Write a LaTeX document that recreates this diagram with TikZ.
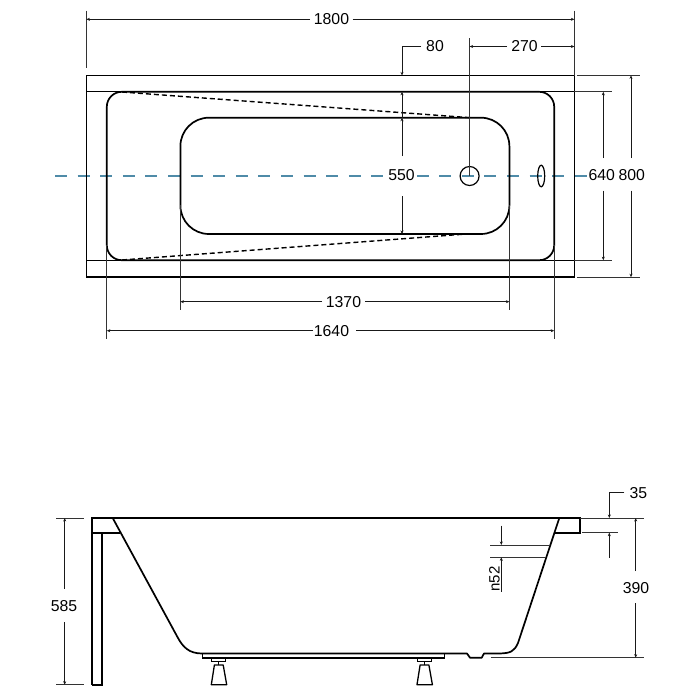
\documentclass[tikz,border=0pt]{standalone}
\usepackage{fontspec}
\setmainfont{Liberation Sans}
\usetikzlibrary{arrows.meta}
\tikzset{
  outline/.style={draw=black,line width=1.7pt,line join=miter},
  thinout/.style={draw=black,line width=1.3pt},
  dimline/.style={draw=black!90,line width=0.95pt},
  extline/.style={draw=black!80,line width=0.95pt},
  dimtip/.style={-{Stealth[length=3.5pt,width=3pt]}},
  dashint/.style={draw=black,line width=1.4pt,dash pattern=on 5pt off 3pt},
  axis/.style={draw=axiscol,line width=1.4pt,dash pattern=on 12pt off 10.6pt},
  lab/.style={font=\fontsize{15.8}{16}\selectfont,inner sep=0pt,text=black},
  lab14/.style={font=\fontsize{15}{15}\selectfont,inner sep=0pt,text=black},
}
\definecolor{axiscol}{HTML}{4F8BA8}
\begin{document}
\begin{tikzpicture}[x=1pt,y=-1pt]
\useasboundingbox (0,0) rectangle (696,696);
\fill[white] (0,0) rectangle (696,696);

% ---------- top view
\draw[axis] (55,176) -- (588,176);
\draw[outline,line width=1.8pt] (86.4,75.4) rectangle (574.4,277.2);
\draw[thinout] (86.4,91.8) -- (574.4,91.8);
\draw[thinout] (86.4,260.2) -- (574.4,260.2);
\draw[outline,rounded corners=15pt] (106.8,91.8) rectangle (554.2,260.2);
\draw[outline,rounded corners=28.5pt] (180.4,117.7) rectangle (509.4,234);
\draw[dashint] (122,92) -- (470,117.7);
\draw[dashint] (122,260) -- (466,234);
\draw[line width=1.2pt] (469.6,176) circle [radius=9.5];
\draw[line width=1.2pt] (541.2,176) ellipse [x radius=3.5,y radius=10.8];

% 1800
\draw[extline] (86.4,10.5) -- (86.4,68);
\draw[extline] (574.4,10.5) -- (574.4,76);
\node[lab] (d1800) at (331.5,19.3) {1800};
\draw[dimline,dimtip] (310,19.3) -- (86.4,19.3);
\draw[dimline,dimtip] (352.5,19.3) -- (574.4,19.3);
% 80
\node[lab] (d80) at (435,46.5) {80};
\draw[dimline,dimtip] (421,46.5) -- (402,46.5) -- (402,75.4);
\draw[dimline,dimtip] (402,117.7) -- (402,91.8);
% 270
\draw[extline] (469.6,38) -- (469.6,176);
\node[lab] (d270) at (524.5,46.5) {270};
\draw[dimline,dimtip] (507,46.5) -- (469.6,46.5);
\draw[dimline,dimtip] (541,46.5) -- (574.4,46.5);
% 550
\node[lab,fill=white,inner xsep=2pt] (d550) at (401.5,175.5) {550};
\draw[dimline,dimtip] (402,156) -- (402,117.7);
\draw[dimline,dimtip] (402,196) -- (402,234);
% 640 / 800
\node[lab] (d640) at (601.7,175) {640};
\node[lab] (d800) at (631.7,175) {800};
\draw[extline] (574.4,91.8) -- (612,91.8);
\draw[extline] (574.4,260.2) -- (612,260.2);
\draw[extline] (577,75.4) -- (640,75.4);
\draw[extline] (577,277.2) -- (640,277.2);
\draw[dimline,dimtip] (603.3,158) -- (603.3,91.8);
\draw[dimline,dimtip] (603.3,190.7) -- (603.3,260.2);
\draw[dimline,dimtip] (631,158) -- (631,75.4);
\draw[dimline,dimtip] (631,190.7) -- (631,277.2);
% 1370 / 1640
\draw[extline] (180.4,205) -- (180.4,310);
\draw[extline] (509.4,205) -- (509.4,310);
\node[lab] (d1370) at (343.5,301.7) {1370};
\draw[dimline,dimtip] (322,301.7) -- (180.4,301.7);
\draw[dimline,dimtip] (365,301.7) -- (509.4,301.7);
\draw[extline] (106.8,245) -- (106.8,339);
\draw[extline] (554.2,245) -- (554.2,339);
\node[lab] (d1640) at (331.5,330.7) {1640};
\draw[dimline,dimtip] (313,330.7) -- (106.8,330.7);
\draw[dimline,dimtip] (356,330.7) -- (554.2,330.7);

% ---------- side view
\draw[outline] (91.8,684.7) -- (91.8,518) -- (580.3,518) -- (580.3,532.7) -- (555.3,532.7);
\draw[outline] (101.8,533.3) -- (101.8,684.7) -- (91.8,684.7);
\draw[outline] (91.8,533.3) -- (120,533.3);
% tub shell
\draw[outline,line join=round] (112.7,518) -- (178,638)
  .. controls (183,647) and (189,653.5) .. (202,653.5)
  -- (467,653.5) -- (470,657.7) -- (481.7,657.7) -- (484,653.5) -- (500,653.5)
  .. controls (510,653) and (514,652) .. (518,643)
  -- (559.3,518);
% plate
\draw[outline,line width=1.4pt] (202.3,653.5) -- (202.3,658) -- (444.4,658) -- (444.4,653.5);
% feet
\foreach \ox in {0,205.7}{
  \begin{scope}[xshift=\ox pt]
  \draw[outline,line width=1.3pt] (211.7,658) rectangle (225.7,661.3);
  \draw[outline,line width=1.3pt] (218.7,661.3) -- (218.7,665);
  \draw[outline,line width=1.3pt,line join=round] (214.4,665) -- (223.2,665) -- (226.7,684.7) -- (211.3,684.7) -- cycle;
  \end{scope}
}
% 585
\draw[extline] (56,518) -- (84,518);
\draw[extline] (56,684.7) -- (84,684.7);
\node[lab] (d585) at (64,606.5) {585};
\draw[dimline,dimtip] (64.7,588.7) -- (64.7,518);
\draw[dimline,dimtip] (64.7,622.3) -- (64.7,684.7);
% 390
\draw[extline] (580,518) -- (644,518);
\draw[extline] (490.7,657.7) -- (644,657.7);
\node[lab] (d390) at (636,587.7) {390};
\draw[dimline,dimtip] (635.7,571) -- (635.7,518);
\draw[dimline,dimtip] (635.7,603.3) -- (635.7,657.7);
% 35
\node[lab] (d35) at (638.3,493) {35};
\draw[dimline,dimtip] (624.3,492.7) -- (609.3,492.7) -- (609.3,518);
\draw[extline] (582,532.7) -- (618.3,532.7);
\draw[dimline,dimtip] (609.3,557.7) -- (609.3,532.7);
% n52
\draw[extline] (490,545) -- (550,545);
\draw[extline] (490,557.3) -- (546,557.3);
\draw[dimline,dimtip] (501.3,525.7) -- (501.3,545);
\draw[dimline,dimtip] (501.3,591.7) -- (501.3,557.3);
\node[lab14,rotate=90] (dn52) at (494.5,579) {n52};
\end{tikzpicture}
\end{document}
